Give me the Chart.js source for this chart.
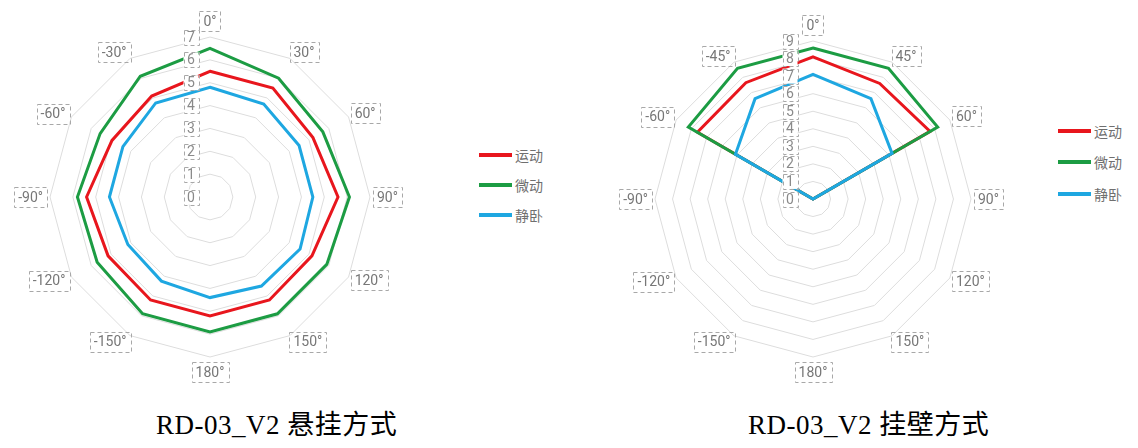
<!DOCTYPE html>
<html>
<head>
<meta charset="utf-8">
<script src="https://cdn.jsdelivr.net/npm/chart.js@4.4.1/dist/chart.umd.min.js"></script>
<style>
    body {
        margin: 0;
        width: 1138px;
        height: 448px;
        background: #ffffff;
        position: relative;
        overflow: hidden;
        font-family: Roboto, "Noto Sans CJK SC", sans-serif;
    }
    .wrap {
        position: absolute;
        top: 0;
        height: 395px;
    }
    #hangWrap { left: 0; width: 420px; }
    #wallWrap { left: 590px; width: 440px; }
    .legend {
        position: absolute;
        list-style: none;
        margin: 0;
        padding: 0;
    }
    #hangLegend { left: 479px; top: 140px; }
    #wallLegend { left: 1058px; top: 115px; }
    #hangLegend li { height: 30px; }
    #wallLegend li { height: 31.5px; }
    .legend li {
        display: flex;
        align-items: center;
        font-family: "Noto Sans CJK SC", sans-serif;
        font-size: 14px;
        color: #6f6f6f;
    }
    .legend .swatch {
        display: inline-block;
        width: 33px;
        height: 4px;
        margin-right: 3px;
    }
    .caption {
        position: absolute;
        top: 412px;
        line-height: 1;
        font-family: "Liberation Serif", "Noto Sans CJK SC", serif;
        font-size: 27px;
        letter-spacing: 0.5px;
        color: #000000;
        white-space: nowrap;
    }
</style>
</head>
<body>
<div class="wrap" id="hangWrap"><canvas id="hangChart"></canvas></div>
<div class="wrap" id="wallWrap"><canvas id="wallChart"></canvas></div>
<ul class="legend" id="hangLegend"></ul>
<ul class="legend" id="wallLegend"></ul>
<div class="caption" style="left:156px">RD-03_V2 悬挂方式</div>
<div class="caption" style="left:748px">RD-03_V2 挂壁方式</div>
<script>
(() => {
    "use strict";

    const seriesNames = ["运动", "微动", "静卧"];

    const hangLabels = ["0°", "30°", "60°", "90°", "120°", "150°", "180°", "-150°", "-120°", "-90°", "-60°", "-30°"];
    const hangMoving = [5.5, 5.5, 5.2, 5.6, 5.15, 5.2, 5.2, 5.2, 5.15, 5.4, 4.95, 5.1];
    const hangMicro = [6.5, 6.0, 5.7, 6.1, 5.9, 5.9, 5.9, 5.9, 5.7, 5.8, 5.55, 6.1];
    const hangStatic = [4.8, 4.7, 4.5, 4.5, 4.55, 4.5, 4.4, 4.25, 4.15, 4.4, 4.4, 4.75];
    const hangMax = 7;

    const wallLabels = ["0°", "45°", "60°", "90°", "120°", "150°", "180°", "-150°", "-120°", "-90°", "-60°", "-45°"];
    const wallMoving = [8.1, 7.6, 7.7, 0, 0, 0, 0, 0, 0, 0, 7.6, 7.65];
    const wallMicro = [8.6, 8.6, 8.2, 0, 0, 0, 0, 0, 0, 0, 8.2, 8.6];
    const wallStatic = [7.1, 6.6, 5.2, 0, 0, 0, 0, 0, 0, 0, 5.1, 6.6];
    const wallMax = 9;

    const seriesColors = ["#e8161d", "#1c9c43", "#1ea7e1"];

    // point labels: sideways ones centred on their spoke, each in a dashed box;
    // tick labels sit in boxes a little left of the vertical axis
    const radarFrame = {
        id: "radarFrame",
        afterDatasetsDraw(chart, args, opts) {
            const scale = chart.scales.r;
            const ctx = chart.ctx;
            ctx.save();
            ctx.lineWidth = 1;
            ctx.strokeStyle = "#a8a8a8";
            ctx.setLineDash([4, 3]);
            ctx.textBaseline = "middle";

            ctx.font = "14px Roboto";
            chart.data.labels.forEach((label, i) => {
                const angle = scale.getIndexAngle(i);
                const p = scale.getPointPosition(i, scale.drawingArea + 7);
                const sin = Math.sin(angle);
                const cos = Math.cos(angle);
                const w = ctx.measureText(label).width;
                let left = p.x - w / 2;
                if (sin > 0.01) {
                    left = p.x;
                } else if (sin < -0.01) {
                    left = p.x - w;
                }
                let cy = p.y;
                if (cos > 0.99) {
                    cy = p.y - 9;
                } else if (cos < -0.99) {
                    cy = p.y + 8;
                }
                ctx.fillStyle = "#777777";
                ctx.textAlign = "left";
                ctx.fillText(label, left, cy + 1);
                ctx.strokeRect(Math.round(left - 4) + 0.5, Math.round(cy - 10) + 0.5, Math.round(w + 8), 20);
            });

            ctx.font = "14px Roboto";
            ctx.textAlign = "center";
            const x = scale.xCenter - opts.tickOffset;
            scale.ticks.forEach((tick) => {
                const y = scale.yCenter - scale.getDistanceFromCenterForValue(tick.value);
                const w = 15;
                const h = 15;
                ctx.fillStyle = "#ffffff";
                ctx.fillRect(x - w / 2, y - h / 2, w, h);
                ctx.strokeRect(Math.round(x - w / 2) + 0.5, Math.round(y - h / 2) + 0.5, w, h);
                ctx.fillStyle = "#8a8a8a";
                ctx.fillText(tick.label, x, y + 1);
            });
            ctx.restore();
        }
    };

    const buildLegend = (chart, listId) => {
        const list = document.getElementById(listId);
        chart.data.datasets.forEach((ds) => {
            const item = document.createElement("li");
            const swatch = document.createElement("span");
            swatch.className = "swatch";
            swatch.style.background = ds.borderColor;
            item.appendChild(swatch);
            item.appendChild(document.createTextNode(ds.label));
            list.appendChild(item);
        });
    };

    const makeRadar = (canvasId, labels, values, max, padding, tickOffset) => {
        const canvas = document.getElementById(canvasId);
        return new Chart(canvas, {
            type: "radar",
            data: {
                labels: labels,
                datasets: values.map((data, index) => ({
                    label: seriesNames[index],
                    data: data,
                    borderColor: seriesColors[index],
                    backgroundColor: seriesColors[index],
                    borderWidth: 3,
                    fill: false,
                    pointRadius: 0,
                    pointHoverRadius: 0,
                    order: 3 - index
                }))
            },
            options: {
                responsive: true,
                maintainAspectRatio: false,
                animation: false,
                layout: { padding: padding },
                elements: { line: { tension: 0, borderJoinStyle: "miter" } },
                scales: {
                    r: {
                        min: 0,
                        max: max,
                        ticks: { display: false, stepSize: 1 },
                        grid: { color: "#dddddd", lineWidth: 1 },
                        angleLines: { display: false },
                        pointLabels: { display: false }
                    }
                },
                plugins: {
                    legend: { display: false },
                    tooltip: { enabled: false },
                    radarFrame: { tickOffset: tickOffset }
                }
            },
            plugins: [radarFrame]
        });
    };

    const hangChart = makeRadar("hangChart", hangLabels, [hangMoving, hangMicro, hangStatic], hangMax,
        { top: 37, bottom: 38, left: 50, right: 50 }, 19);
    buildLegend(hangChart, "hangLegend");

    const wallChart = makeRadar("wallChart", wallLabels, [wallMoving, wallMicro, wallStatic], wallMax,
        { top: 41, bottom: 38, left: 65, right: 59 }, 23);
    buildLegend(wallChart, "wallLegend");
})();
</script>
</body>
</html>
